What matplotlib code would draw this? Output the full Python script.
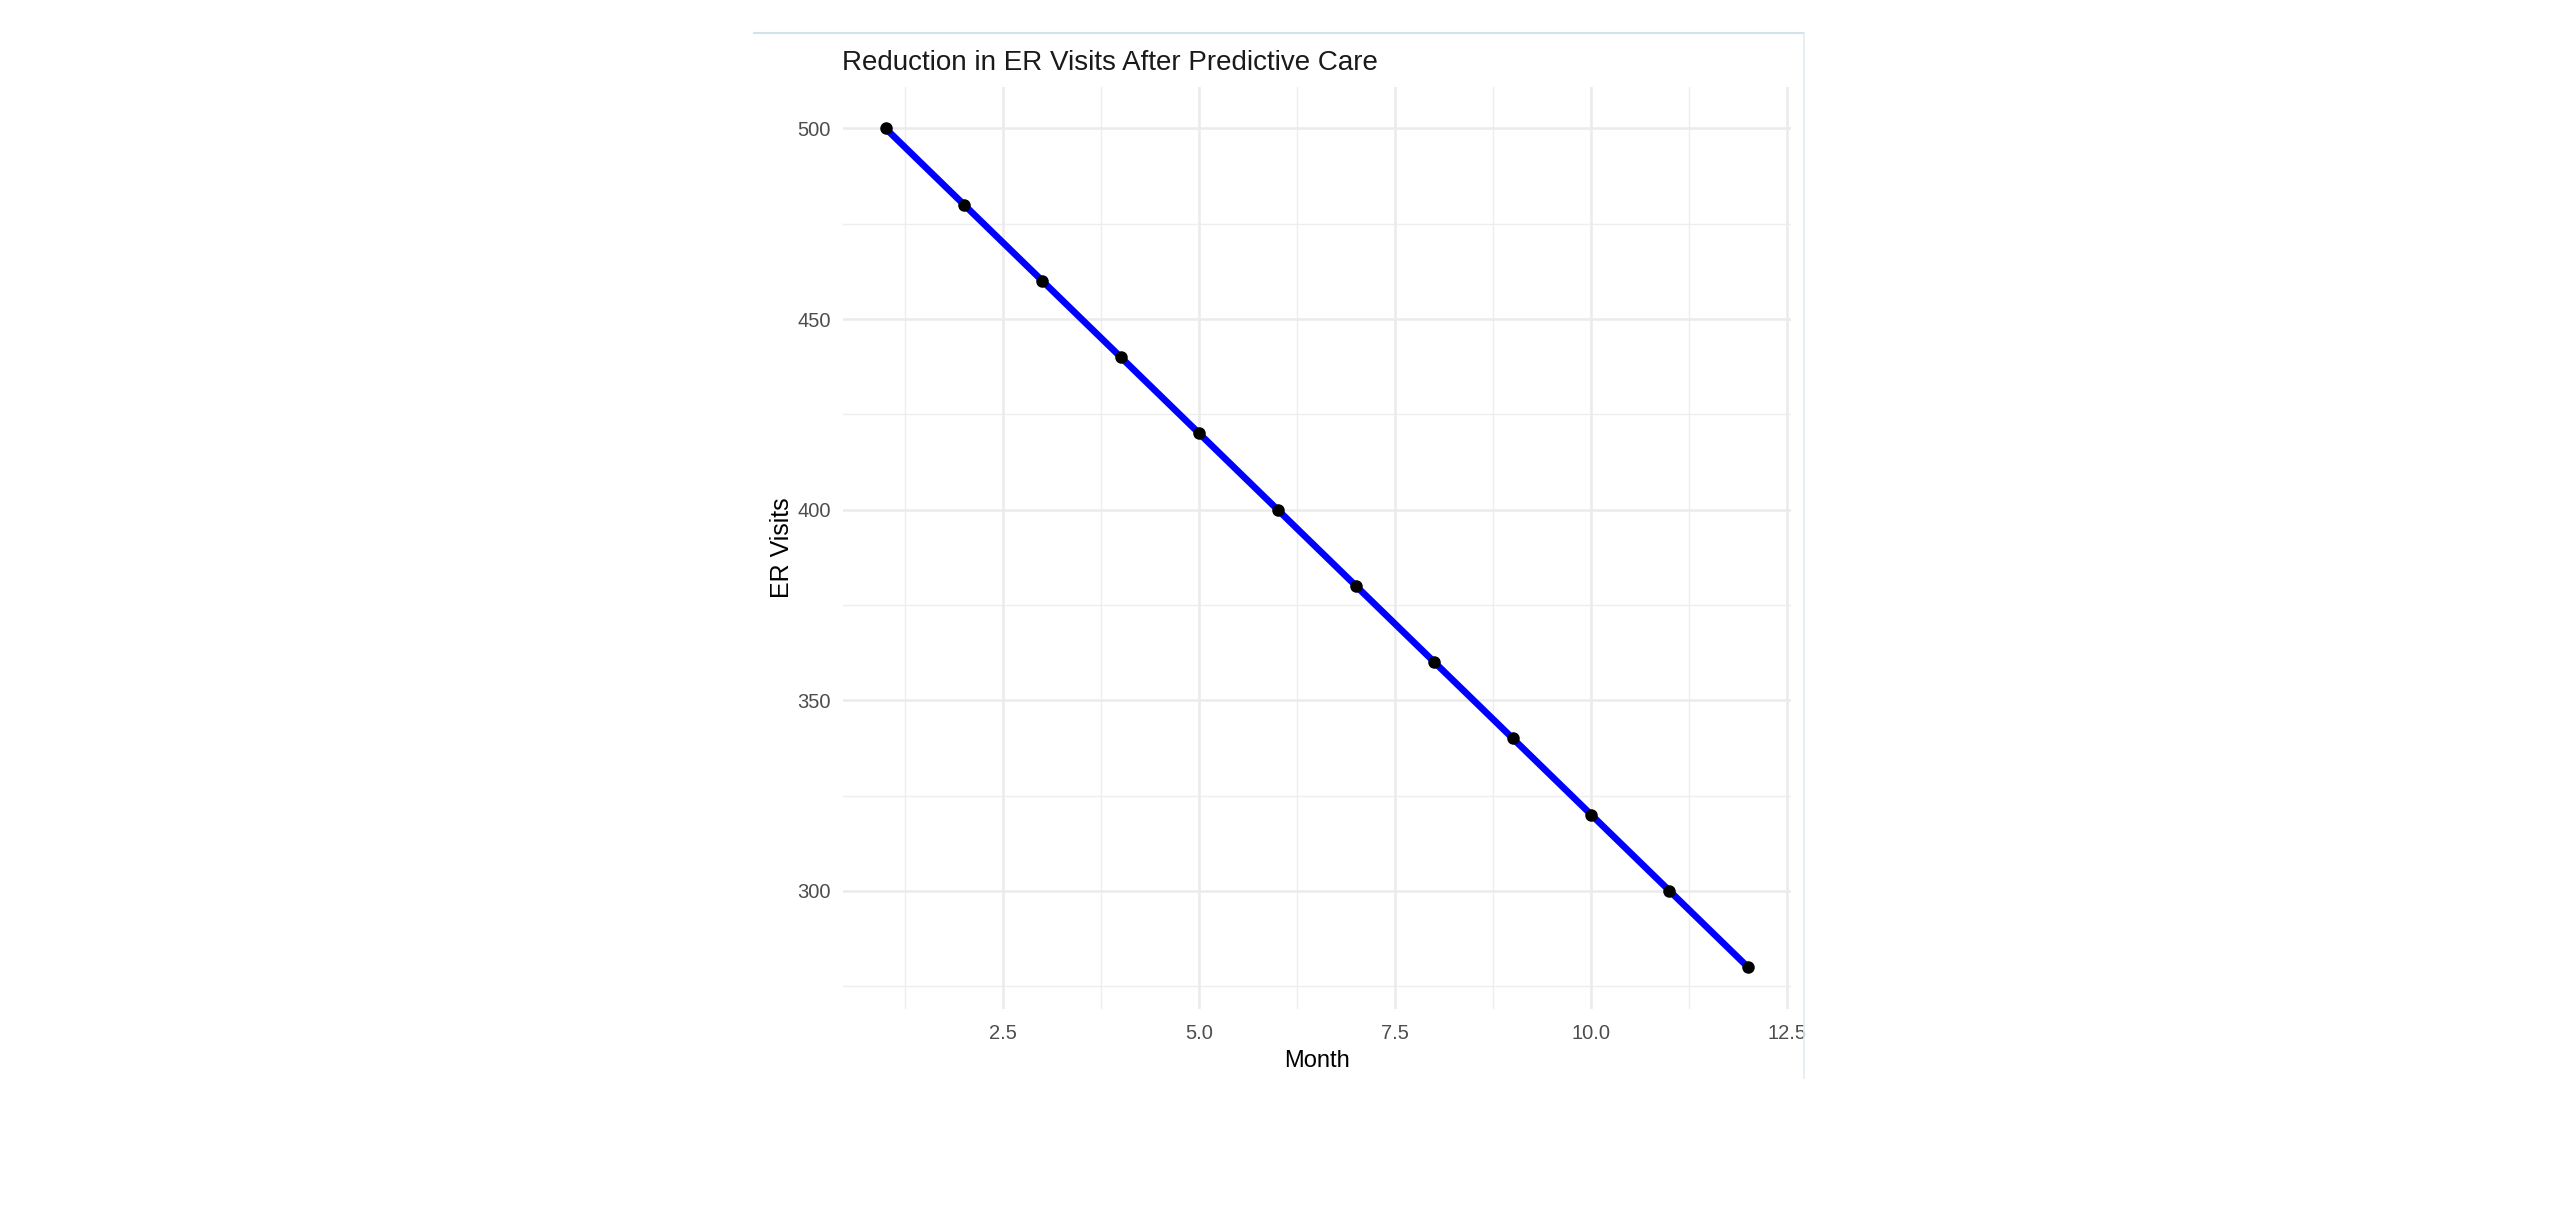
import matplotlib.pyplot as plt
from matplotlib.lines import Line2D

# data
months = [1, 2, 3, 4, 5, 6, 7, 8, 9, 10, 11, 12]
er_visits = [500, 480, 460, 440, 420, 400, 380, 360, 340, 320, 300, 280]
x_major = [2.5, 5.0, 7.5, 10.0, 12.5]
x_minor = [1.25, 3.75, 6.25, 8.75, 11.25]
y_major = [300, 350, 400, 450, 500]
y_minor = [275, 325, 375, 425, 475]

plt.rcParams['font.family'] = ['Liberation Sans', 'DejaVu Sans']

W, H = 2560, 1216
fig = plt.figure(figsize=(W / 100, H / 100), dpi=100)
ax = fig.add_axes([842.5 / W, 1 - 1009 / H, (1791 - 842.5) / W, (1009 - 86.5) / H])

# grid lines (ggplot theme_minimal look)
for v in x_minor:
    ax.axvline(v, color='#eeeeee', lw=1.0, zorder=0)
for v in y_minor:
    ax.axhline(v, color='#eeeeee', lw=1.0, zorder=0)
for v in x_major:
    ax.axvline(v, color='#ebebeb', lw=1.8, zorder=0)
for v in y_major:
    ax.axhline(v, color='#ebebeb', lw=1.8, zorder=0)

ax.plot(months, er_visits, color='#0000ff', lw=4.8, zorder=2, solid_capstyle='butt')
ax.plot(months, er_visits, 'o', color='black', ms=8, zorder=3)

ax.set_xlim(0.45, 12.55)
ax.set_ylim(269, 511)
ax.set_xticks(x_major)
ax.set_xticklabels(['2.5', '5.0', '7.5', '10.0', '12.5'])
ax.set_yticks(y_major)
ax.set_yticklabels([str(v) for v in y_major])
ax.tick_params(length=0, labelsize=14.5, labelcolor='#4d4d4d')
ax.tick_params(axis='x', pad=10.5)
ax.tick_params(axis='y', pad=8.5)
for s in ax.spines.values():
    s.set_visible(False)

ax.set_xlabel('Month', fontsize=17, color='black', labelpad=5)
ax.set_ylabel('ER Visits', fontsize=18, color='black', labelpad=2)
fig.text(842.5 / W, 1 - 63 / H, 'Reduction in ER Visits After Predictive Care',
         fontsize=20, color='#1a1a1a', ha='left', va='center')

# thin viewer border seen in the screenshot
fig.add_artist(Line2D([754 / W, 1804 / W], [1 - 33 / H, 1 - 33 / H],
                      transform=fig.transFigure, color='#d3e3ea', lw=1.5))
fig.add_artist(Line2D([1804 / W, 1804 / W], [1 - 33 / H, 1 - 1078 / H],
                      transform=fig.transFigure, color='#e3ecf0', lw=1.2))

fig.savefig('out.png', dpi=100, facecolor='white')
